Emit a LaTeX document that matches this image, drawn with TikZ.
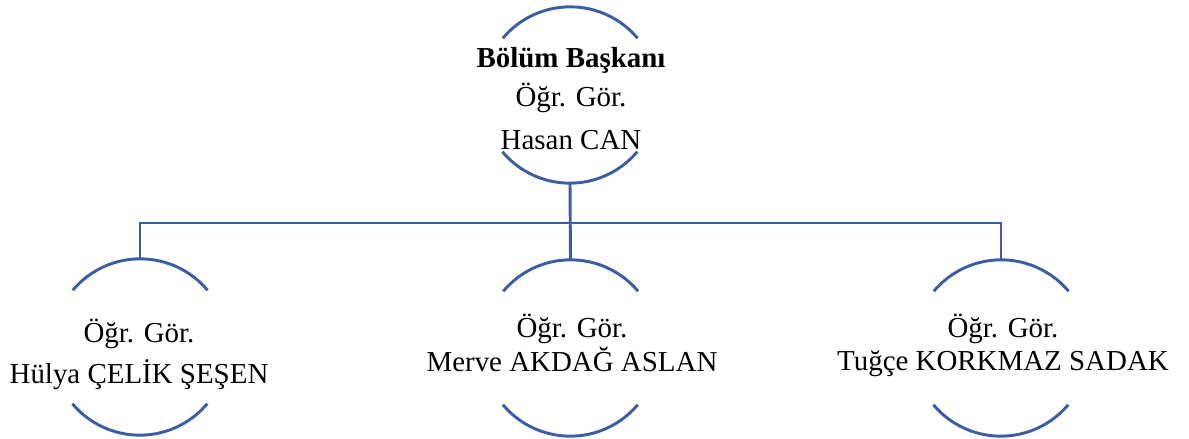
\documentclass[tikz,border=0pt]{standalone}
\usepackage{fontspec}
\setmainfont{Liberation Serif}
\definecolor{lineblue}{RGB}{59,93,163}
\begin{document}
\begin{tikzpicture}[x=0.75pt,y=0.75pt,
  holder/.style={circle,draw=none,minimum size=132pt,inner sep=0pt},
  arcline/.style={draw=lineblue,line width=2.2pt},
  conn/.style={draw=lineblue,line width=2.2pt},
  txt/.style={anchor=base,inner sep=0pt,font=\fontsize{21.7pt}{26pt}\selectfont}]
\useasboundingbox (0,0) rectangle (1189,-439);
% holders
\node[holder] (top) at (570,-95) {};
\node[holder] (left) at (140,-347) {};
\node[holder] (mid) at (570.5,-348) {};
\node[holder] (right) at (1001,-348) {};
% arcs
\foreach \n in {top,left,mid,right}{
  \draw[arcline] (\n.40) arc[start angle=40,end angle=140,radius=88];
  \draw[arcline] (\n.220) arc[start angle=220,end angle=320,radius=88];
}
% connectors
\coordinate (bus) at (570,-223);
\draw[conn] (top.south) -- (mid.north);
\draw[conn] (left.north) |- (bus) -| (right.north);
% texts
\node[txt] (t1) at (571,-67) {\textbf{Bölüm Başkanı}};
\node[txt] (t2) at (571,-106) {Öğr. Gör.};
\node[txt] (t3) at (571,-149) {Hasan CAN};
\node[txt] (l1) at (139,-342) {Öğr. Gör.};
\node[txt] (l2) at (139,-383) {Hülya ÇELİK ŞEŞEN};
\node[txt] (m1) at (572,-337) {Öğr. Gör.};
\node[txt] (m2) at (572,-371) {Merve AKDAĞ ASLAN};
\node[txt] (r1) at (1003,-337) {Öğr. Gör.};
\node[txt] (r2) at (1003,-370) {Tuğçe KORKMAZ SADAK};
\end{tikzpicture}
\end{document}
